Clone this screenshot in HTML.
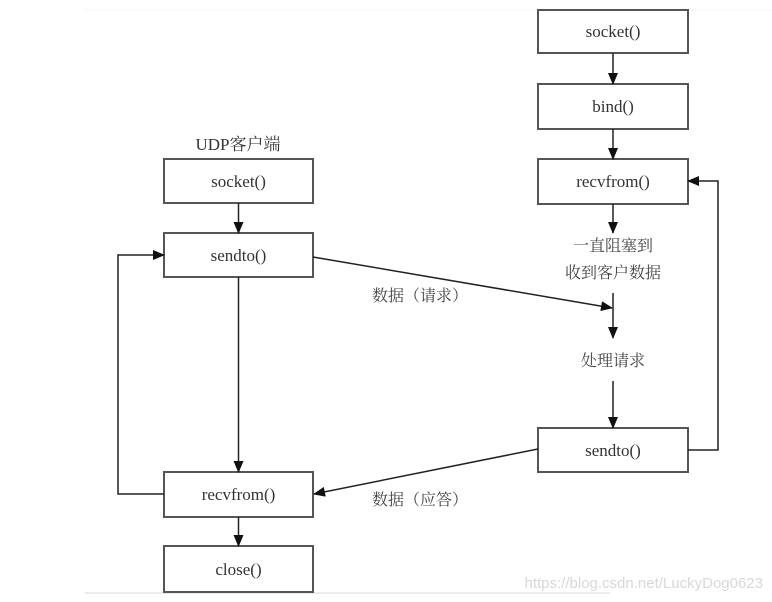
<!DOCTYPE html>
<html><head><meta charset="utf-8"><style>
html,body{margin:0;padding:0;background:#fff;}
svg{display:block;}
text{font-family:"Liberation Serif","Noto Serif CJK SC",serif;fill:#333;}
.cn{font-family:"Liberation Serif","Noto Serif CJK SC",serif;fill:#444;}
</style></head><body>
<svg width="772" height="602" viewBox="0 0 772 602" xmlns="http://www.w3.org/2000/svg">
<defs>
<marker id="a" markerWidth="12" markerHeight="10" refX="11" refY="5" orient="auto" markerUnits="userSpaceOnUse">
<path d="M0,0 L12,5 L0,10 z" fill="#111"/></marker>
</defs>
<line x1="85" y1="10" x2="772" y2="10" stroke="#f4f4f4" stroke-width="1"/>
<line x1="85" y1="593" x2="610" y2="593" stroke="#e6e6e6" stroke-width="1.5"/>
<g fill="#fff" stroke="#555" stroke-width="2">
<rect x="164" y="159" width="149" height="44"/>
<rect x="164" y="233" width="149" height="44"/>
<rect x="164" y="472" width="149" height="45"/>
<rect x="164" y="546" width="149" height="46"/>
<rect x="538" y="10" width="150" height="43"/>
<rect x="538" y="84" width="150" height="45"/>
<rect x="538" y="159" width="150" height="45"/>
<rect x="538" y="428" width="150" height="44"/>
</g>
<g stroke="#222" stroke-width="1.5" fill="none">
<line x1="238.5" y1="203" x2="238.5" y2="233" marker-end="url(#a)"/>
<line x1="238.5" y1="277" x2="238.5" y2="472" marker-end="url(#a)"/>
<line x1="238.5" y1="517" x2="238.5" y2="546" marker-end="url(#a)"/>
<polyline points="164,494 118,494 118,255 164,255" marker-end="url(#a)"/>
<line x1="613" y1="53" x2="613" y2="84" marker-end="url(#a)"/>
<line x1="613" y1="129" x2="613" y2="159" marker-end="url(#a)"/>
<line x1="613" y1="204" x2="613" y2="233" marker-end="url(#a)"/>
<line x1="613" y1="293" x2="613" y2="338" marker-end="url(#a)"/>
<line x1="613" y1="381" x2="613" y2="428" marker-end="url(#a)"/>
<polyline points="688,450 718,450 718,181 688,181" marker-end="url(#a)"/>
<line x1="313" y1="257" x2="612" y2="308" marker-end="url(#a)"/>
<line x1="538" y1="449" x2="314" y2="494" marker-end="url(#a)"/>
</g>
<g font-size="17" text-anchor="middle">
<text x="238.5" y="187">socket()</text>
<text x="238.5" y="261">sendto()</text>
<text x="238.5" y="500">recvfrom()</text>
<text x="238.5" y="575">close()</text>
<text x="613" y="37">socket()</text>
<text x="613" y="112">bind()</text>
<text x="613" y="187">recvfrom()</text>
<text x="613" y="456">sendto()</text>
<text x="238" y="150">UDP客户端</text>
</g>
<g font-size="16" text-anchor="middle" class="cn">
<text class="cn" x="613" y="251">一直阻塞到</text>
<text class="cn" x="613" y="278">收到客户数据</text>
<text class="cn" x="613" y="366">处理请求</text>
<text class="cn" x="420" y="301">数据（请求）</text>
<text class="cn" x="420" y="505">数据（应答）</text>
</g>
<text x="763" y="588" text-anchor="end" font-size="15" style="font-family:'Liberation Sans',sans-serif;fill:#d8d8d8">https://blog.csdn.net/LuckyDog0623</text>
</svg>
</body></html>
